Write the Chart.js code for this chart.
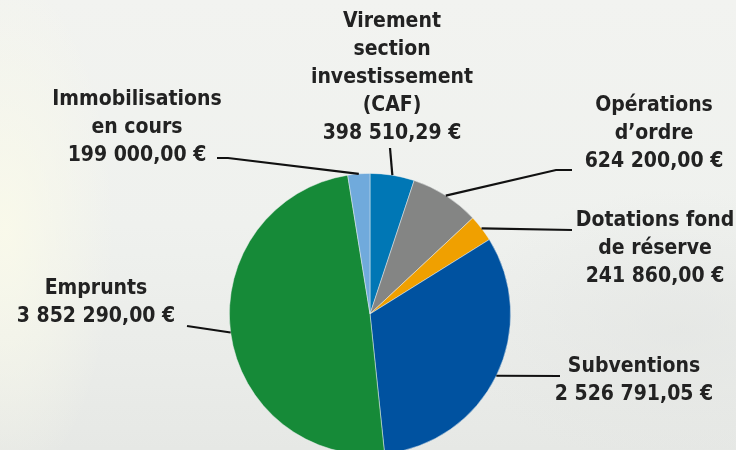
<!DOCTYPE html>
<html>
<head>
<meta charset="utf-8">
<script src="https://cdn.jsdelivr.net/npm/chart.js@4"></script>
<style>
html,body{margin:0;padding:0;}
body{width:736px;height:450px;overflow:hidden;
background:
radial-gradient(ellipse 110px 260px at 5px 230px, rgba(250,250,234,0.9), rgba(250,250,234,0) 100%),
radial-gradient(ellipse 220px 140px at 680px 330px, rgba(226,228,226,0.6), rgba(226,228,226,0) 100%),
linear-gradient(180deg,#f2f3f0 0%,#eff1ee 50%,#eaece9 80%,#e6e8e5 100%);}
#wrap{position:relative;width:736px;height:450px;overflow:hidden;}
canvas{position:absolute;left:0;top:0;}
</style>
</head>
<body>
<div id="wrap"><canvas id="pie" width="736" height="460"></canvas></div>
<script>
// data, clockwise from 12 o'clock
const categories=[
["Virement","section","investissement","(CAF)"],
["Opérations","d’ordre"],
["Dotations fond","de réserve"],
["Subventions"],
["Emprunts"],
["Immobilisations","en cours"]
]
const values=[398510.29,624200.00,241860.00,2526791.05,3852290.00,199000.00]
const colors=["#0077b5","#848584","#f0a000","#0052a0","#168a38","#70aadc"]

// label placement (text centre x, first line y, leader points after the arc)
const labelX=[392,654,655,634,96,137]
const labelY=[22,106,221,367,289,100]
const leaders=[
[[390,148]],
[[556,170],[572,170]],
[[572,230]],
[[560,376]],
[[187,326]],
[[228,158],[217,158]]
]

function euro(v){
let parts=v.toFixed(2).split(".")
let ent=parts[0].replace(/\B(?=(\d{3})+(?!\d))/g," ")
return ent+","+parts[1]+" €"
}

const labelPlugin={
id:"labels",
afterDraw(chart){
const ctx=chart.ctx
const meta=chart.getDatasetMeta(0)
ctx.save()
ctx.strokeStyle="#111"
ctx.lineWidth=2.2
meta.data.forEach((arc,i)=>{
const p=arc.getProps(["x","y","startAngle","endAngle","outerRadius"],true)
const mid=(p.startAngle+p.endAngle)/2
let px=p.x+Math.cos(mid)*p.outerRadius
let py=p.y+Math.sin(mid)*p.outerRadius
ctx.beginPath()
ctx.moveTo(px,py)
leaders[i].forEach(pt=>ctx.lineTo(pt[0],pt[1]))
ctx.stroke()
})
ctx.fillStyle="#222"
ctx.font="bold 21px 'DejaVu Sans Condensed'"
ctx.textAlign="center"
ctx.textBaseline="middle"
categories.forEach((lines,i)=>{
let all=lines.concat([euro(values[i])])
all.forEach((t,j)=>{
ctx.fillText(t,labelX[i],labelY[i]+j*28)
})
})
ctx.restore()
}
}

new Chart(document.getElementById("pie"),{
type:"pie",
data:{
labels:categories.map(c=>c.join(" ")),
datasets:[{
data:values,
backgroundColor:colors,
borderColor:"rgba(235,240,240,0.6)",
borderWidth:0.8
}]
},
options:{
responsive:false,
animation:false,
layout:{padding:{top:173,bottom:5,left:4,right:0}},
plugins:{legend:{display:false},tooltip:{enabled:false}}
},
plugins:[labelPlugin]
})
</script>
</body>
</html>
